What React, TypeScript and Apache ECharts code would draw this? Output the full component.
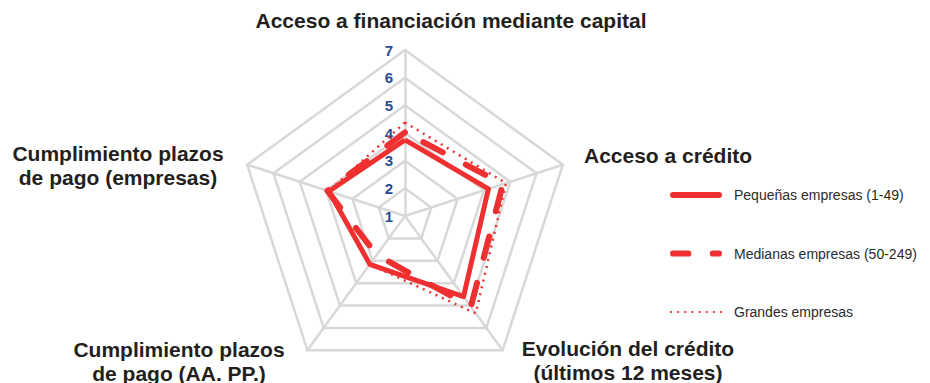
import React, { useEffect, useRef } from 'react';
import * as echarts from 'echarts';

// Indicators in ECharts order (counter-clockwise from top)
const indicatorNames = [
  'Acceso a financiación mediante capital',
  'Cumplimiento plazos\nde pago (empresas)',
  'Cumplimiento plazos\nde pago (AA. PP.)',
  'Evolución del crédito\n(últimos 12 meses)',
  'Acceso a crédito',
];
const axisMin = 1;
const axisMax = 7;
const splitCount = 6;

const seriesNames = ['Pequeñas empresas (1-49)', 'Medianas empresas (50-249)', 'Grandes empresas'];
const pequenas = [3.75, 3.89, 3.16, 4.6, 4.17];
const medianas = [4.02, 3.95, 2.74, 5.05, 4.72];
const grandes = [4.38, 3.9, 3.16, 5.35, 4.84];

const RED = '#ef3030';
const NAME_FONT = 'bold 21px "Liberation Sans", Arial, sans-serif';

const iconSolid = 'path://M3,0 L49,0 A3,3 0 0 1 49,6 L3,6 A3,3 0 0 1 3,0 Z';
const iconDashed =
  'path://M3,0 L18,0 A3,3 0 0 1 18,6 L3,6 A3,3 0 0 1 3,0 Z M42,0 L48,0 A3,3 0 0 1 48,6 L42,6 A3,3 0 0 1 42,0 Z';
const iconDotted =
  'path://' +
  [0, 6.5, 13, 19.5, 26, 32.5, 39, 45.5]
    .map((x) => `M${x},0 L${x + 1.6},0 L${x + 1.6},1.6 L${x},1.6 Z`)
    .join(' ');

export default function App() {
  const ref = useRef<HTMLDivElement>(null);
  useEffect(() => {
    document.body.style.margin = '0';
    if (!ref.current) return;
    const chart = echarts.init(ref.current, null, { renderer: 'svg' });
    const nameStyle = (text: string, x: number, y: number) => ({
      type: 'text',
      x,
      y,
      style: {
        text,
        font: NAME_FONT,
        fill: '#231f20',
        align: 'center',
        verticalAlign: 'middle',
        lineHeight: 24,
      },
    });
    chart.setOption({
      animation: false,
      radar: {
        center: [405, 216],
        radius: 166,
        startAngle: 90,
        splitNumber: splitCount,
        shape: 'polygon',
        axisName: { show: false },
        splitArea: { show: false },
        splitLine: { lineStyle: { color: '#d8d8d8', width: 2.5 } },
        axisLine: { lineStyle: { color: '#d8d8d8', width: 2.5 } },
        axisTick: { show: false },
        axisLabel: { show: false },
        indicator: indicatorNames.map((name, i) => ({
          name,
          min: axisMin,
          max: axisMax,
          ...(i === 0
            ? {
                axisLabel: {
                  show: true,
                  color: '#2a4a98',
                  fontSize: 15,
                  fontWeight: 'bold',
                  margin: 12,
                  fontFamily: 'Liberation Sans, Arial, sans-serif',
                },
              }
            : {}),
        })),
      },
      legend: {
        orient: 'vertical',
        left: 665,
        top: 183,
        itemWidth: 52,
        itemHeight: 16,
        itemGap: 44.5,
        symbolKeepAspect: true,
        textStyle: {
          fontFamily: 'Liberation Sans, Arial, sans-serif',
          fontSize: 14,
          color: '#2b2b2b',
          padding: [0, 0, 0, 7],
        },
        data: [
          { name: seriesNames[0], icon: iconSolid, itemStyle: { color: RED, borderWidth: 0 } },
          { name: seriesNames[1], icon: iconDashed, itemStyle: { color: RED, borderWidth: 0 } },
          { name: seriesNames[2], icon: iconDotted, itemStyle: { color: RED, borderWidth: 0 } },
        ],
      },
      graphic: [
        nameStyle(indicatorNames[0], 451, 20),
        nameStyle(indicatorNames[4], 668, 155),
        nameStyle(indicatorNames[1], 118, 165),
        nameStyle(indicatorNames[2], 179, 361),
        nameStyle(indicatorNames[3], 628, 360),
      ],
      series: [
        {
          type: 'radar',
          symbol: 'none',
          itemStyle: { color: RED },
          data: [
            {
              name: seriesNames[2],
              value: grandes,
              itemStyle: { color: RED },
              lineStyle: { color: RED, width: 2.5, type: [2, 5] },
            },
            {
              name: seriesNames[1],
              value: medianas,
              itemStyle: { color: RED },
              lineStyle: { color: RED, width: 6, type: [22, 26], cap: 'round' },
            },
            {
              name: seriesNames[0],
              value: pequenas,
              itemStyle: { color: RED },
              lineStyle: { color: RED, width: 5, type: 'solid', join: 'round' },
            },
          ],
        },
      ],
    });
    return () => chart.dispose();
  }, []);
  return <div ref={ref} style={{ width: 930, height: 383 }} />;
}
